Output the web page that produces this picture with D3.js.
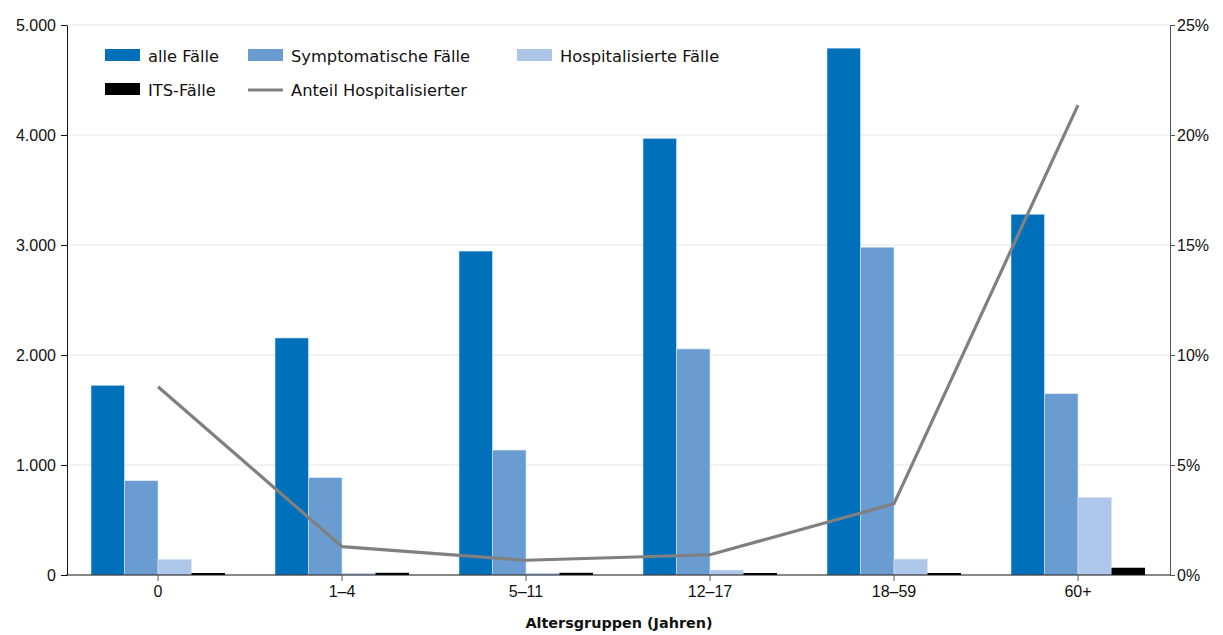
<!DOCTYPE html>
<html><head><meta charset="utf-8">
<script src="https://cdn.jsdelivr.net/npm/d3@7"></script>
<style>
body{margin:0;background:#fff;}
svg{display:block;font-family:"DejaVu Sans",sans-serif;}
</style></head>
<body><svg id="c" width="1223" height="635"></svg>
<script>
const categories = ["0","1–4","5–11","12–17","18–59","60+"];
const alleFaelle = [1725,2155,2945,3970,4790,3280];
const symptomatisch = [857,885,1136,2055,2980,1648];
const hospitalisiert = [143,18,18,45,145,706];
const itsFaelle = [18,20,20,18,18,66];
const anteilHosp = [8.56,1.29,0.67,0.92,3.24,21.36];
const leftTicks = [0,1000,2000,3000,4000,5000];
const rightTicks = [0,5,10,15,20,25];
const seriesNames = ["alle Fälle","Symptomatische Fälle","Hospitalisierte Fälle","ITS-Fälle"];
const seriesColors = ["#0070ba","#6a9bd1","#aec6e8","#000000"];
const lineName = "Anteil Hospitalisierter";
const xTitle = "Altersgruppen (Jahren)";

const svg = d3.select("#c");
const L=66, R=1170, T=25, B=575;
const de = d3.formatLocale({decimal:",",thousands:".",grouping:[3],currency:["","€"]});
const fmt = de.format(",");

const x = d3.scaleBand().domain(categories).range([L,R]).paddingInner(0).paddingOuter(0);
const y = d3.scaleLinear().domain([0,5000]).range([B,T]);
const y2 = d3.scaleLinear().domain([0,25]).range([B,T]);
const inner = d3.scaleBand().domain(d3.range(4)).range([25, x.bandwidth()-25]);

// grid
svg.append("g").selectAll("line").data(leftTicks.filter(d=>d>0)).join("line")
  .attr("x1",L).attr("x2",R).attr("y1",d=>y(d)).attr("y2",d=>y(d))
  .attr("stroke","#e6e6e6").attr("stroke-width",1);

// bars
const seriesData = [alleFaelle,symptomatisch,hospitalisiert,itsFaelle];
seriesData.forEach((vals,si)=>{
  svg.append("g").selectAll("rect").data(vals).join("rect")
    .attr("x",(d,i)=>x(categories[i])+inner(si))
    .attr("width",inner.bandwidth())
    .attr("y",d=>y(d)).attr("height",d=>B-y(d))
    .attr("fill",seriesColors[si])
    .attr("stroke", si===3 ? "none" : "#dbe8f5").attr("stroke-width",0.6);
});

// axes
const fs = "16px";
const ax = svg.append("g").attr("transform",`translate(${L+1},0)`)
  .call(d3.axisLeft(y).tickValues(leftTicks).tickFormat(fmt).tickSize(6).tickSizeOuter(0).tickPadding(5));
ax.selectAll("text").attr("font-size",fs).attr("fill","#111");
ax.select(".domain").attr("stroke","#111");
ax.selectAll(".tick line").attr("stroke","#111");

const ax2 = svg.append("g").attr("transform",`translate(${R},0)`)
  .call(d3.axisRight(y2).tickValues(rightTicks).tickFormat(d=>d+"%").tickSize(5).tickSizeOuter(0).tickPadding(2));
ax2.selectAll("text").attr("font-size",fs).attr("fill","#111");
ax2.select(".domain").attr("stroke","#555");
ax2.selectAll(".tick line").attr("stroke","#555");

const axb = svg.append("g").attr("transform",`translate(0,${B})`)
  .call(d3.axisBottom(x).tickSize(6).tickSizeOuter(0).tickPadding(5));
axb.selectAll("text").attr("font-size",fs).attr("fill","#111");
axb.select(".domain").attr("stroke","#111").attr("d",`M${L},0H${R}`);
axb.selectAll(".tick line").attr("stroke","#555");

svg.append("text").attr("x",619).attr("y",628).attr("text-anchor","middle")
  .attr("font-size","14.4px").attr("font-weight","bold").attr("fill","#111").text(xTitle);

// line
const line = d3.line().x((d,i)=>x(categories[i])+x.bandwidth()/2).y(d=>y2(d));
svg.append("path").datum(anteilHosp).attr("d",line).attr("fill","none")
  .attr("stroke","#808080").attr("stroke-width",3.2).attr("stroke-linejoin","miter");

// legend
const leg = [
  {name:seriesNames[0],c:seriesColors[0],x:105,y:56,t:"rect"},
  {name:seriesNames[1],c:seriesColors[1],x:248,y:56,t:"rect"},
  {name:seriesNames[2],c:seriesColors[2],x:517,y:56,t:"rect"},
  {name:seriesNames[3],c:seriesColors[3],x:105,y:90,t:"rect"},
  {name:lineName,c:"#808080",x:248,y:90,t:"line"}
];
const lg = svg.append("g");
leg.forEach(d=>{
  if(d.t==="rect") lg.append("rect").attr("x",d.x).attr("y",d.y-7).attr("width",35).attr("height",12).attr("fill",d.c);
  else lg.append("line").attr("x1",d.x).attr("x2",d.x+35).attr("y1",d.y).attr("y2",d.y).attr("stroke",d.c).attr("stroke-width",3.2);
  lg.append("text").attr("x",d.x+43).attr("y",d.y+6).attr("font-size","16.3px").attr("fill","#111").text(d.name);
});
</script></body></html>
